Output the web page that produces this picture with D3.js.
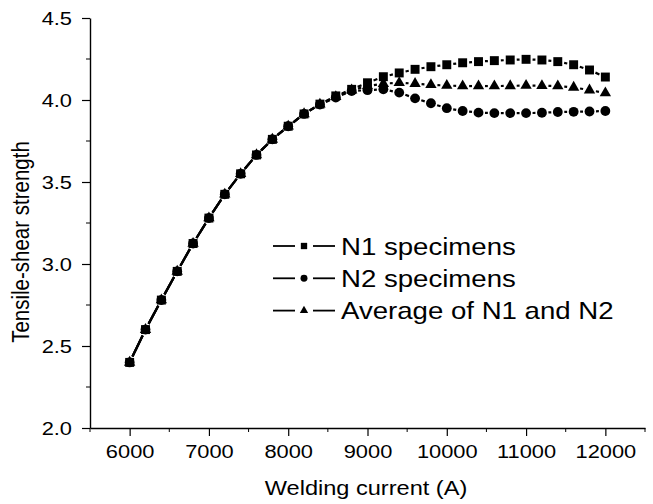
<!DOCTYPE html>
<html>
<head>
<meta charset="utf-8">
<script src="https://cdn.jsdelivr.net/npm/d3@7"></script>
<style>
  body { margin: 0; background: #fff; }
  svg text { font-family: "Liberation Sans", Arial, sans-serif; fill: #000; }
</style>
</head>
<body>
<svg id="chart" width="653" height="504"></svg>
<script>
// welding current (A)
const current = [6000, 6200, 6400, 6600, 6800, 7000, 7200, 7400, 7600, 7800, 8000,
                 8200, 8400, 8600, 8800, 9000, 9200, 9400, 9600, 9800, 10000,
                 10200, 10400, 10600, 10800, 11000, 11200, 11400, 11600, 11800, 12000];

const n1 = [2.40, 2.60, 2.78, 2.955, 3.125, 3.28, 3.425, 3.55, 3.665, 3.76, 3.84,
            3.915, 3.975, 4.025, 4.065, 4.105, 4.142, 4.165, 4.187, 4.203, 4.215,
            4.227, 4.234, 4.24, 4.244, 4.248, 4.244, 4.234, 4.215, 4.183, 4.14];
const n2 = [2.40, 2.60, 2.78, 2.955, 3.125, 3.28, 3.425, 3.55, 3.665, 3.76, 3.84,
            3.915, 3.972, 4.015, 4.055, 4.06, 4.065, 4.045, 4.01, 3.98, 3.95,
            3.933, 3.923, 3.92, 3.92, 3.92, 3.922, 3.927, 3.928, 3.93, 3.933];
const avg = [2.40, 2.60, 2.78, 2.955, 3.125, 3.28, 3.425, 3.55, 3.665, 3.76, 3.84,
             3.915, 3.974, 4.02, 4.06, 4.085, 4.10, 4.105, 4.10, 4.093, 4.088,
             4.085, 4.085, 4.085, 4.086, 4.088, 4.087, 4.085, 4.077, 4.06, 4.043];

const seriesNames = ["N1 specimens", "N2 specimens", "Average of N1 and N2"];
const xTicks = [6000, 7000, 8000, 9000, 10000, 11000, 12000];
const yTicks = [2.0, 2.5, 3.0, 3.5, 4.0, 4.5];

const series = [
  { name: seriesNames[0], values: n1, symbol: d3.symbolSquare, size: 80, legendSize: 40 },
  { name: seriesNames[1], values: n2, symbol: d3.symbolCircle, size: 76, legendSize: 38 },
  { name: seriesNames[2], values: avg, symbol: d3.symbolTriangle, size: 56, legendSize: 30 }
];

// the source picture is a bit wider than tall, text looks stretched sideways
const stretch = 1.15;

const svg = d3.select("#chart");

const x = d3.scaleLinear().domain([5500, 12500]).range([90, 645]);
const y = d3.scaleLinear().domain([2.0, 4.5]).range([428, 18]);

// axes
const xAxis = svg.append("g")
    .attr("transform", "translate(0,428)")
    .call(d3.axisBottom(x).tickValues(xTicks).tickFormat(d3.format("d"))
        .tickSize(8).tickPadding(9).tickSizeOuter(0));
xAxis.selectAll(".tick text")
    .style("font-size", "19px")
    .attr("transform", `scale(${stretch},1)`);
xAxis.append("g").selectAll("line")
    .data(d3.range(5500, 12501, 500).filter(v => v % 1000 !== 0))
    .enter().append("line")
    .attr("x1", d => x(d)).attr("x2", d => x(d))
    .attr("y1", 0).attr("y2", 4)
    .attr("stroke", "#000");

const yAxis = svg.append("g")
    .attr("transform", "translate(90,0)")
    .call(d3.axisLeft(y).tickValues(yTicks).tickFormat(d3.format(".1f"))
        .tickSize(8).tickPadding(10).tickSizeOuter(0));
yAxis.selectAll(".tick text")
    .style("font-size", "19px")
    .attr("x", -18 / stretch)
    .attr("transform", `scale(${stretch},1)`);
yAxis.append("g").selectAll("line")
    .data([2.25, 2.75, 3.25, 3.75, 4.25])
    .enter().append("line")
    .attr("x1", 0).attr("x2", -4)
    .attr("y1", d => y(d)).attr("y2", d => y(d))
    .attr("stroke", "#000");

svg.selectAll(".domain").attr("stroke", "#000").attr("stroke-width", 1.4);
svg.selectAll(".tick line").attr("stroke", "#000").attr("stroke-width", 1.2);

svg.append("text")
    .attr("transform", `translate(366,495) scale(${stretch},1)`)
    .attr("text-anchor", "middle")
    .style("font-size", "20.5px")
    .text("Welding current (A)");

svg.append("text")
    .attr("transform", `translate(29,242) rotate(-90) scale(1,${stretch})`)
    .attr("text-anchor", "middle")
    .style("font-size", "20.5px")
    .text("Tensile-shear strength");

// lines with a small gap around each symbol
const gap = 6.5;
series.forEach(s => {
  const pts = current.map((c, i) => [x(c), y(s.values[i])]);
  const segs = d3.pairs(pts).map(([a, b]) => {
    const dx = b[0] - a[0], dy = b[1] - a[1];
    const len = Math.hypot(dx, dy);
    const ux = dx / len, uy = dy / len;
    return [a[0] + ux * gap, a[1] + uy * gap, b[0] - ux * gap, b[1] - uy * gap, len];
  }).filter(d => d[4] > gap * 2);

  svg.append("g").selectAll("line")
      .data(segs)
      .enter().append("line")
      .attr("x1", d => d[0]).attr("y1", d => d[1])
      .attr("x2", d => d[2]).attr("y2", d => d[3])
      .attr("stroke", "#000")
      .attr("stroke-width", 2.2);
});

series.forEach(s => {
  svg.append("g").selectAll("path")
      .data(current.map((c, i) => [c, s.values[i]]))
      .enter().append("path")
      .attr("transform", d => `translate(${x(d[0])},${y(d[1])})`)
      .attr("d", d3.symbol().type(s.symbol).size(s.size))
      .attr("fill", "#000");
});

// legend
const legend = svg.append("g").attr("transform", "translate(273,246)");
series.forEach((s, i) => {
  const g = legend.append("g").attr("transform", `translate(0,${i * 32.3})`);
  g.append("line").attr("x1", 0).attr("x2", 22).attr("stroke", "#000").attr("stroke-width", 1.8);
  g.append("line").attr("x1", 40).attr("x2", 62).attr("stroke", "#000").attr("stroke-width", 1.8);
  g.append("path")
      .attr("transform", "translate(31,0)")
      .attr("d", d3.symbol().type(s.symbol).size(s.legendSize))
      .attr("fill", "#000");
  g.append("text")
      .attr("transform", `translate(68,8.6) scale(${stretch},1)`)
      .style("font-size", "24px")
      .text(s.name);
});
</script>
</body>
</html>
